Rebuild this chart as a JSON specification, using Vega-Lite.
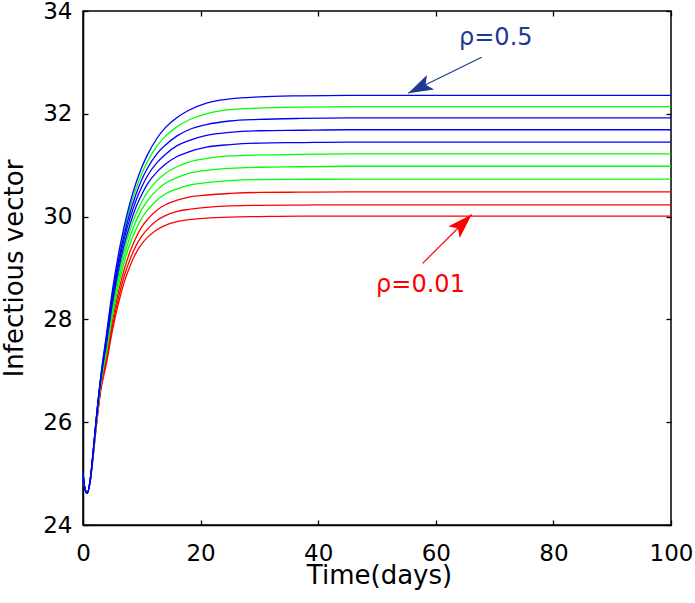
{
"$schema": "https://vega.github.io/schema/vega-lite/v6.json",
"width": 588, "height": 514,
"autosize": {"type": "none"},
"padding": {"left": 83, "top": 11, "right": 24, "bottom": 78},
"background": "white",
"config": {"view": {"stroke": "black", "strokeWidth": 1.5}, "font": "DejaVu Sans"},
"datasets": {
"curves": [
{"s":0,"c":"b","t":0,"v":25},{"s":0,"c":"b","t":0.3,"v":24.72},{"s":0,"c":"b","t":0.7,"v":24.62},{"s":0,"c":"b","t":1.2,"v":24.85},{"s":0,"c":"b","t":1.7,"v":25.39},{"s":0,"c":"b","t":2.2,"v":26.01},{"s":0,"c":"b","t":3,"v":26.86},{"s":0,"c":"b","t":4,"v":27.72},{"s":0,"c":"b","t":5,"v":28.56},{"s":0,"c":"b","t":6,"v":29.25},{"s":0,"c":"b","t":7,"v":29.81},{"s":0,"c":"b","t":8,"v":30.27},{"s":0,"c":"b","t":9,"v":30.65},{"s":0,"c":"b","t":10,"v":30.96},{"s":0,"c":"b","t":11,"v":31.21},{"s":0,"c":"b","t":12.5,"v":31.51},{"s":0,"c":"b","t":14,"v":31.73},{"s":0,"c":"b","t":16,"v":31.93},{"s":0,"c":"b","t":18,"v":32.07},{"s":0,"c":"b","t":21,"v":32.21},{"s":0,"c":"b","t":25,"v":32.29},{"s":0,"c":"b","t":30,"v":32.33},{"s":0,"c":"b","t":37,"v":32.35},{"s":0,"c":"b","t":45,"v":32.36},{"s":0,"c":"b","t":100,"v":32.36},
{"s":1,"c":"g","t":0,"v":25},{"s":1,"c":"g","t":0.3,"v":24.72},{"s":1,"c":"g","t":0.7,"v":24.62},{"s":1,"c":"g","t":1.2,"v":24.85},{"s":1,"c":"g","t":1.7,"v":25.39},{"s":1,"c":"g","t":2.2,"v":26.01},{"s":1,"c":"g","t":3,"v":26.86},{"s":1,"c":"g","t":4,"v":27.68},{"s":1,"c":"g","t":5,"v":28.51},{"s":1,"c":"g","t":6,"v":29.18},{"s":1,"c":"g","t":7,"v":29.73},{"s":1,"c":"g","t":8,"v":30.18},{"s":1,"c":"g","t":9,"v":30.54},{"s":1,"c":"g","t":10,"v":30.84},{"s":1,"c":"g","t":11,"v":31.08},{"s":1,"c":"g","t":12.5,"v":31.36},{"s":1,"c":"g","t":14,"v":31.56},{"s":1,"c":"g","t":16,"v":31.75},{"s":1,"c":"g","t":18,"v":31.88},{"s":1,"c":"g","t":21,"v":32.0},{"s":1,"c":"g","t":25,"v":32.08},{"s":1,"c":"g","t":30,"v":32.11},{"s":1,"c":"g","t":37,"v":32.13},{"s":1,"c":"g","t":45,"v":32.14},{"s":1,"c":"g","t":100,"v":32.14},
{"s":2,"c":"b","t":0,"v":25},{"s":2,"c":"b","t":0.3,"v":24.72},{"s":2,"c":"b","t":0.7,"v":24.62},{"s":2,"c":"b","t":1.2,"v":24.85},{"s":2,"c":"b","t":1.7,"v":25.39},{"s":2,"c":"b","t":2.2,"v":26.0},{"s":2,"c":"b","t":3,"v":26.85},{"s":2,"c":"b","t":4,"v":27.64},{"s":2,"c":"b","t":5,"v":28.45},{"s":2,"c":"b","t":6,"v":29.11},{"s":2,"c":"b","t":7,"v":29.65},{"s":2,"c":"b","t":8,"v":30.08},{"s":2,"c":"b","t":9,"v":30.43},{"s":2,"c":"b","t":10,"v":30.72},{"s":2,"c":"b","t":11,"v":30.95},{"s":2,"c":"b","t":12.5,"v":31.21},{"s":2,"c":"b","t":14,"v":31.39},{"s":2,"c":"b","t":16,"v":31.57},{"s":2,"c":"b","t":18,"v":31.69},{"s":2,"c":"b","t":21,"v":31.79},{"s":2,"c":"b","t":25,"v":31.86},{"s":2,"c":"b","t":30,"v":31.89},{"s":2,"c":"b","t":37,"v":31.91},{"s":2,"c":"b","t":45,"v":31.92},{"s":2,"c":"b","t":100,"v":31.92},
{"s":3,"c":"b","t":0,"v":25},{"s":3,"c":"b","t":0.3,"v":24.72},{"s":3,"c":"b","t":0.7,"v":24.62},{"s":3,"c":"b","t":1.2,"v":24.85},{"s":3,"c":"b","t":1.7,"v":25.38},{"s":3,"c":"b","t":2.2,"v":25.99},{"s":3,"c":"b","t":3,"v":26.83},{"s":3,"c":"b","t":4,"v":27.59},{"s":3,"c":"b","t":5,"v":28.38},{"s":3,"c":"b","t":6,"v":29.03},{"s":3,"c":"b","t":7,"v":29.56},{"s":3,"c":"b","t":8,"v":29.97},{"s":3,"c":"b","t":9,"v":30.31},{"s":3,"c":"b","t":10,"v":30.58},{"s":3,"c":"b","t":11,"v":30.8},{"s":3,"c":"b","t":12.5,"v":31.04},{"s":3,"c":"b","t":14,"v":31.21},{"s":3,"c":"b","t":16,"v":31.38},{"s":3,"c":"b","t":18,"v":31.48},{"s":3,"c":"b","t":21,"v":31.58},{"s":3,"c":"b","t":25,"v":31.64},{"s":3,"c":"b","t":30,"v":31.67},{"s":3,"c":"b","t":37,"v":31.68},{"s":3,"c":"b","t":45,"v":31.69},{"s":3,"c":"b","t":100,"v":31.69},
{"s":4,"c":"b","t":0,"v":25},{"s":4,"c":"b","t":0.3,"v":24.72},{"s":4,"c":"b","t":0.7,"v":24.62},{"s":4,"c":"b","t":1.2,"v":24.85},{"s":4,"c":"b","t":1.7,"v":25.37},{"s":4,"c":"b","t":2.2,"v":25.98},{"s":4,"c":"b","t":3,"v":26.81},{"s":4,"c":"b","t":4,"v":27.54},{"s":4,"c":"b","t":5,"v":28.31},{"s":4,"c":"b","t":6,"v":28.94},{"s":4,"c":"b","t":7,"v":29.45},{"s":4,"c":"b","t":8,"v":29.85},{"s":4,"c":"b","t":9,"v":30.18},{"s":4,"c":"b","t":10,"v":30.43},{"s":4,"c":"b","t":11,"v":30.64},{"s":4,"c":"b","t":12.5,"v":30.86},{"s":4,"c":"b","t":14,"v":31.02},{"s":4,"c":"b","t":16,"v":31.17},{"s":4,"c":"b","t":18,"v":31.26},{"s":4,"c":"b","t":21,"v":31.35},{"s":4,"c":"b","t":25,"v":31.4},{"s":4,"c":"b","t":30,"v":31.43},{"s":4,"c":"b","t":37,"v":31.44},{"s":4,"c":"b","t":45,"v":31.45},{"s":4,"c":"b","t":100,"v":31.45},
{"s":5,"c":"g","t":0,"v":25},{"s":5,"c":"g","t":0.3,"v":24.72},{"s":5,"c":"g","t":0.7,"v":24.62},{"s":5,"c":"g","t":1.2,"v":24.85},{"s":5,"c":"g","t":1.7,"v":25.37},{"s":5,"c":"g","t":2.2,"v":25.97},{"s":5,"c":"g","t":3,"v":26.79},{"s":5,"c":"g","t":4,"v":27.49},{"s":5,"c":"g","t":5,"v":28.23},{"s":5,"c":"g","t":6,"v":28.85},{"s":5,"c":"g","t":7,"v":29.35},{"s":5,"c":"g","t":8,"v":29.74},{"s":5,"c":"g","t":9,"v":30.05},{"s":5,"c":"g","t":10,"v":30.29},{"s":5,"c":"g","t":11,"v":30.48},{"s":5,"c":"g","t":12.5,"v":30.69},{"s":5,"c":"g","t":14,"v":30.84},{"s":5,"c":"g","t":16,"v":30.97},{"s":5,"c":"g","t":18,"v":31.06},{"s":5,"c":"g","t":21,"v":31.13},{"s":5,"c":"g","t":25,"v":31.18},{"s":5,"c":"g","t":30,"v":31.2},{"s":5,"c":"g","t":37,"v":31.21},{"s":5,"c":"g","t":45,"v":31.22},{"s":5,"c":"g","t":100,"v":31.22},
{"s":6,"c":"g","t":0,"v":25},{"s":6,"c":"g","t":0.3,"v":24.72},{"s":6,"c":"g","t":0.7,"v":24.62},{"s":6,"c":"g","t":1.2,"v":24.85},{"s":6,"c":"g","t":1.7,"v":25.36},{"s":6,"c":"g","t":2.2,"v":25.95},{"s":6,"c":"g","t":3,"v":26.76},{"s":6,"c":"g","t":4,"v":27.43},{"s":6,"c":"g","t":5,"v":28.15},{"s":6,"c":"g","t":6,"v":28.75},{"s":6,"c":"g","t":7,"v":29.23},{"s":6,"c":"g","t":8,"v":29.61},{"s":6,"c":"g","t":9,"v":29.91},{"s":6,"c":"g","t":10,"v":30.14},{"s":6,"c":"g","t":11,"v":30.31},{"s":6,"c":"g","t":12.5,"v":30.51},{"s":6,"c":"g","t":14,"v":30.65},{"s":6,"c":"g","t":16,"v":30.76},{"s":6,"c":"g","t":18,"v":30.84},{"s":6,"c":"g","t":21,"v":30.9},{"s":6,"c":"g","t":25,"v":30.94},{"s":6,"c":"g","t":30,"v":30.96},{"s":6,"c":"g","t":37,"v":30.97},{"s":6,"c":"g","t":45,"v":30.98},{"s":6,"c":"g","t":100,"v":30.98},
{"s":7,"c":"g","t":0,"v":25},{"s":7,"c":"g","t":0.3,"v":24.72},{"s":7,"c":"g","t":0.7,"v":24.62},{"s":7,"c":"g","t":1.2,"v":24.84},{"s":7,"c":"g","t":1.7,"v":25.34},{"s":7,"c":"g","t":2.2,"v":25.93},{"s":7,"c":"g","t":3,"v":26.72},{"s":7,"c":"g","t":4,"v":27.36},{"s":7,"c":"g","t":5,"v":28.06},{"s":7,"c":"g","t":6,"v":28.64},{"s":7,"c":"g","t":7,"v":29.11},{"s":7,"c":"g","t":8,"v":29.47},{"s":7,"c":"g","t":9,"v":29.75},{"s":7,"c":"g","t":10,"v":29.97},{"s":7,"c":"g","t":11,"v":30.13},{"s":7,"c":"g","t":12.5,"v":30.31},{"s":7,"c":"g","t":14,"v":30.44},{"s":7,"c":"g","t":16,"v":30.54},{"s":7,"c":"g","t":18,"v":30.61},{"s":7,"c":"g","t":21,"v":30.66},{"s":7,"c":"g","t":25,"v":30.7},{"s":7,"c":"g","t":30,"v":30.72},{"s":7,"c":"g","t":37,"v":30.725},{"s":7,"c":"g","t":45,"v":30.73},{"s":7,"c":"g","t":100,"v":30.73},
{"s":8,"c":"r","t":0,"v":25},{"s":8,"c":"r","t":0.3,"v":24.72},{"s":8,"c":"r","t":0.7,"v":24.62},{"s":8,"c":"r","t":1.2,"v":24.84},{"s":8,"c":"r","t":1.7,"v":25.33},{"s":8,"c":"r","t":2.2,"v":25.9},{"s":8,"c":"r","t":3,"v":26.68},{"s":8,"c":"r","t":4,"v":27.29},{"s":8,"c":"r","t":5,"v":27.96},{"s":8,"c":"r","t":6,"v":28.52},{"s":8,"c":"r","t":7,"v":28.97},{"s":8,"c":"r","t":8,"v":29.32},{"s":8,"c":"r","t":9,"v":29.59},{"s":8,"c":"r","t":10,"v":29.8},{"s":8,"c":"r","t":11,"v":29.95},{"s":8,"c":"r","t":12.5,"v":30.12},{"s":8,"c":"r","t":14,"v":30.23},{"s":8,"c":"r","t":16,"v":30.32},{"s":8,"c":"r","t":18,"v":30.38},{"s":8,"c":"r","t":21,"v":30.42},{"s":8,"c":"r","t":25,"v":30.45},{"s":8,"c":"r","t":30,"v":30.47},{"s":8,"c":"r","t":37,"v":30.475},{"s":8,"c":"r","t":45,"v":30.48},{"s":8,"c":"r","t":100,"v":30.48},
{"s":9,"c":"r","t":0,"v":25},{"s":9,"c":"r","t":0.3,"v":24.72},{"s":9,"c":"r","t":0.7,"v":24.62},{"s":9,"c":"r","t":1.2,"v":24.83},{"s":9,"c":"r","t":1.7,"v":25.31},{"s":9,"c":"r","t":2.2,"v":25.87},{"s":9,"c":"r","t":3,"v":26.64},{"s":9,"c":"r","t":4,"v":27.21},{"s":9,"c":"r","t":5,"v":27.86},{"s":9,"c":"r","t":6,"v":28.4},{"s":9,"c":"r","t":7,"v":28.84},{"s":9,"c":"r","t":8,"v":29.17},{"s":9,"c":"r","t":9,"v":29.43},{"s":9,"c":"r","t":10,"v":29.62},{"s":9,"c":"r","t":11,"v":29.76},{"s":9,"c":"r","t":12.5,"v":29.92},{"s":9,"c":"r","t":14,"v":30.02},{"s":9,"c":"r","t":16,"v":30.1},{"s":9,"c":"r","t":18,"v":30.14},{"s":9,"c":"r","t":21,"v":30.18},{"s":9,"c":"r","t":25,"v":30.21},{"s":9,"c":"r","t":30,"v":30.22},{"s":9,"c":"r","t":37,"v":30.225},{"s":9,"c":"r","t":45,"v":30.23},{"s":9,"c":"r","t":100,"v":30.23},
{"s":10,"c":"r","t":0,"v":25},{"s":10,"c":"r","t":0.3,"v":24.72},{"s":10,"c":"r","t":0.7,"v":24.62},{"s":10,"c":"r","t":1.2,"v":24.83},{"s":10,"c":"r","t":1.7,"v":25.3},{"s":10,"c":"r","t":2.2,"v":25.85},{"s":10,"c":"r","t":3,"v":26.6},{"s":10,"c":"r","t":4,"v":27.15},{"s":10,"c":"r","t":5,"v":27.78},{"s":10,"c":"r","t":6,"v":28.3},{"s":10,"c":"r","t":7,"v":28.72},{"s":10,"c":"r","t":8,"v":29.04},{"s":10,"c":"r","t":9,"v":29.29},{"s":10,"c":"r","t":10,"v":29.47},{"s":10,"c":"r","t":11,"v":29.6},{"s":10,"c":"r","t":12.5,"v":29.74},{"s":10,"c":"r","t":14,"v":29.83},{"s":10,"c":"r","t":16,"v":29.9},{"s":10,"c":"r","t":18,"v":29.94},{"s":10,"c":"r","t":21,"v":29.97},{"s":10,"c":"r","t":25,"v":29.99},{"s":10,"c":"r","t":30,"v":30.0},{"s":10,"c":"r","t":37,"v":30.01},{"s":10,"c":"r","t":45,"v":30.01},{"s":10,"c":"r","t":100,"v":30.01}
],
"arrows": [
{"k":"hi","t1":67.8,"v1":33.10,"t2":55.3,"v2":32.40},
{"k":"lo","t1":57.75,"v1":29.09,"t2":66.1,"v2":30.04}
],
"labels": [
{"k":"hi","t":70.2,"v":33.34,"label":"ρ=0.5"},
{"k":"lo","t":57.4,"v":28.54,"label":"ρ=0.01"}
]
},
"resolve": {"axis": {"x": "independent", "y": "independent"}},
"layer": [
{
"data": {"name": "curves"},
"transform": [{"filter": "datum.c === 'r'"}],
"mark": {"type": "line", "color": "#ff0000", "strokeWidth": 1.3, "interpolate": "monotone"},
"encoding": {
"x": {"field": "t", "type": "quantitative", "scale": {"domain": [0, 100], "nice": false, "zero": false},
"axis": {"orient": "bottom", "values": [0, 20, 40, 60, 80, 100], "grid": false, "domain": true, "domainColor": "black", "domainWidth": 1.5, "ticks": true, "tickSize": -5, "tickColor": "black", "tickWidth": 1.3, "labelFontSize": 23, "labelFont": "DejaVu Sans", "labelColor": "black", "labelBaseline": "alphabetic", "labelPadding": 40, "labelFlush": false, "labelOverlap": false, "title": "Time(days)", "titleFontSize": 26, "titleFont": "DejaVu Sans", "titleFontWeight": "normal", "titleColor": "black", "titleX": 296, "titleY": 58, "titleBaseline": "alphabetic", "titleAlign": "center"}},
"y": {"field": "v", "type": "quantitative", "scale": {"domain": [24, 34], "nice": false, "zero": false},
"axis": {"orient": "left", "values": [24, 26, 28, 30, 32, 34], "grid": false, "domain": true, "domainColor": "black", "domainWidth": 1.5, "ticks": true, "tickSize": -5, "tickColor": "black", "tickWidth": 1.3, "labelFontSize": 23, "labelFont": "DejaVu Sans", "labelColor": "black", "labelAlign": "right", "labelBaseline": "middle", "labelPadding": 16, "labelFlush": false, "labelOverlap": false, "title": "Infectious vector", "titleFontSize": 26, "titleFont": "DejaVu Sans", "titleFontWeight": "normal", "titleColor": "black", "titleAngle": -90, "titleX": -61, "titleY": 257, "titleBaseline": "alphabetic", "titleAlign": "center"}},
"detail": {"field": "s", "type": "nominal"}
}
},
{
"data": {"name": "curves"},
"transform": [{"filter": "datum.c === 'g'"}],
"mark": {"type": "line", "color": "#00ff00", "strokeWidth": 1.3, "interpolate": "monotone"},
"encoding": {
"x": {"field": "t", "type": "quantitative", "axis": null},
"y": {"field": "v", "type": "quantitative", "axis": null},
"detail": {"field": "s", "type": "nominal"}
}
},
{
"data": {"name": "curves"},
"transform": [{"filter": "datum.c === 'b'"}],
"mark": {"type": "line", "color": "#0000ff", "strokeWidth": 1.3, "interpolate": "monotone"},
"encoding": {
"x": {"field": "t", "type": "quantitative",
"axis": {"orient": "top", "values": [0, 20, 40, 60, 80, 100], "grid": false, "domain": false, "labels": false, "title": null, "ticks": true, "tickSize": -5, "tickColor": "black", "tickWidth": 1.3}},
"y": {"field": "v", "type": "quantitative",
"axis": {"orient": "right", "values": [24, 26, 28, 30, 32, 34], "grid": false, "domain": false, "labels": false, "title": null, "ticks": true, "tickSize": -5, "tickColor": "black", "tickWidth": 1.3}},
"detail": {"field": "s", "type": "nominal"}
}
},
{
"data": {"name": "arrows"},
"mark": {"type": "rule", "strokeWidth": 1.2},
"encoding": {
"x": {"field": "t1", "type": "quantitative", "axis": null},
"y": {"field": "v1", "type": "quantitative", "axis": null},
"x2": {"field": "t2"},
"y2": {"field": "v2"},
"color": {"field": "k", "type": "nominal", "scale": {"domain": ["hi", "lo"], "range": ["#1f3a93", "#ff0000"]}, "legend": null}
}
},
{
"data": {"name": "arrows"},
"transform": [{"filter": "datum.k === 'hi'"}],
"mark": {"type": "point", "shape": "M0,0L-2,-0.65L-1.55,0L-2,0.65Z", "size": 625, "angle": 153.8, "filled": true, "fill": "#1f3a93", "strokeWidth": 0, "opacity": 1},
"encoding": {
"x": {"field": "t2", "type": "quantitative", "axis": null},
"y": {"field": "v2", "type": "quantitative", "axis": null}
}
},
{
"data": {"name": "arrows"},
"transform": [{"filter": "datum.k === 'lo'"}],
"mark": {"type": "point", "shape": "M0,0L-2,-0.65L-1.55,0L-2,0.65Z", "size": 625, "angle": 315, "filled": true, "fill": "#ff0000", "strokeWidth": 0, "opacity": 1},
"encoding": {
"x": {"field": "t2", "type": "quantitative", "axis": null},
"y": {"field": "v2", "type": "quantitative", "axis": null}
}
},
{
"data": {"name": "labels"},
"mark": {"type": "text", "fontSize": 24, "font": "DejaVu Sans", "align": "center", "baseline": "alphabetic"},
"encoding": {
"x": {"field": "t", "type": "quantitative", "axis": null},
"y": {"field": "v", "type": "quantitative", "axis": null},
"text": {"field": "label"},
"color": {"field": "k", "type": "nominal", "scale": {"domain": ["hi", "lo"], "range": ["#1f3a93", "#ff0000"]}, "legend": null}
}
}
]
}
